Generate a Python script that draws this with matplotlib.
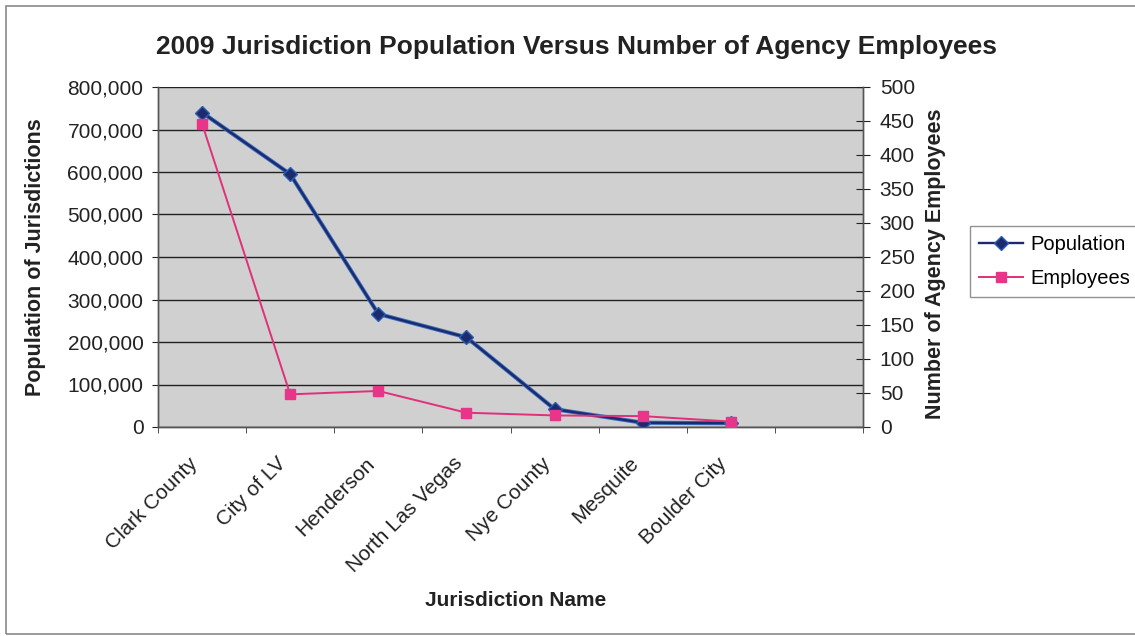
import matplotlib
matplotlib.use("Agg")
import matplotlib.pyplot as plt
from matplotlib.ticker import FuncFormatter, FixedLocator
from matplotlib.patches import Rectangle
from matplotlib.transforms import ScaledTranslation

categories = ["Clark County", "City of LV", "Henderson", "North Las Vegas",
              "Nye County", "Mesquite", "Boulder City"]
population = [740000, 595000, 266000, 211000, 42000, 10000, 9000]
employees = [446, 48, 53, 21, 17, 16, 8]

plt.rcParams['font.family'] = ['Liberation Sans', 'DejaVu Sans']

W, H = 1135, 636
fig = plt.figure(figsize=(W / 100, H / 100), dpi=100)
fig.patch.set_facecolor('white')

def fx(px):
    return px / W

def fy(py):
    return 1 - py / H

# outer chart frame
fig.add_artist(Rectangle((fx(6), fy(634)), 1.2, (634 - 6) / H, transform=fig.transFigure,
                         fill=False, edgecolor='#8a8a8a', linewidth=1.2))

ax = fig.add_axes([fx(158), fy(427), (863 - 158) / W, (427 - 87) / H])
ax.set_facecolor('#d0d0d0')
ax2 = ax.twinx()

x = list(range(len(categories)))
n_slots = len(categories) + 1

ax.set_xlim(-0.5, n_slots - 0.5)
ax.set_ylim(0, 800000)
ax.set_yticks(range(0, 800001, 100000))
ax.yaxis.set_major_formatter(FuncFormatter(lambda v, p: f"{int(v):,}"))
ax.grid(axis='y', color='#222222', linewidth=1.0)
ax.set_axisbelow(True)

ax.set_xticks(x)
ax.set_xticklabels(categories, rotation=45, ha='right', va='center',
                   rotation_mode='anchor', fontsize=15, color='#222222')
ax.tick_params(axis='x', which='major', length=0, pad=24)
ax.xaxis.set_minor_locator(FixedLocator([i - 0.5 for i in range(n_slots + 1)]))
ax.tick_params(axis='x', which='minor', length=4.5, direction='out', color='#333333')
ax.tick_params(axis='y', length=4.5, direction='out', labelsize=15, colors='#222222', pad=6)

shift = ScaledTranslation(-7 / 100, 0, fig.dpi_scale_trans)
for lab in ax.get_xticklabels():
    lab.set_transform(lab.get_transform() + shift)

ax2.set_ylim(0, 500)
ax2.set_yticks(range(0, 501, 50))
ax2.tick_params(axis='y', length=10, direction='inout', labelsize=15, colors='#222222', pad=7)

for a in (ax, ax2):
    for s in a.spines.values():
        s.set_color('#555555')
        s.set_linewidth(1.0)
ax.spines['top'].set_visible(False)
ax2.spines['top'].set_visible(False)

ax.plot(x, population, color='#3a6fc0', linewidth=3.0, zorder=4, solid_capstyle='round')
l1, = ax.plot(x, population, color='#1c2a6e', linewidth=1.7, marker='D', markersize=7.5,
              markerfacecolor='#1c2a6e', markeredgecolor='#2a5fb0', label='Population',
              zorder=5)
l2, = ax2.plot(x, employees, color='#e0307a', linewidth=1.4, marker='s', markersize=7,
               markerfacecolor='#e8358a', markeredgecolor='#e8358a', label='Employees',
               zorder=4)

fig.text(fx(36), fy(257), "Population of Jurisdictions", rotation=90, ha='center',
         va='center', fontsize=15.5, fontweight='bold', color='#222222')
fig.text(fx(936), fy(264), "Number of Agency Employees", rotation=90, ha='center',
         va='center', fontsize=15.5, fontweight='bold', color='#222222')
fig.text(fx(516), fy(601), "Jurisdiction Name", ha='center', va='center',
         fontsize=15, fontweight='bold', color='#222222')

fig.text(fx(576), fy(47), "2009 Jurisdiction Population Versus Number of Agency Employees",
         ha='center', va='center', fontsize=19, fontweight='bold', color='#222222')

leg = fig.legend(handles=[l1, l2], loc='upper left',
                 bbox_to_anchor=(fx(970), fy(226)), fontsize=14.5,
                 frameon=True, fancybox=False, edgecolor='#777777',
                 handlelength=2.2, handletextpad=0.35, borderpad=0.45, labelspacing=0.75,
                 borderaxespad=0)
leg.get_frame().set_linewidth(1.0)

fig.savefig("out.png", dpi=100)
